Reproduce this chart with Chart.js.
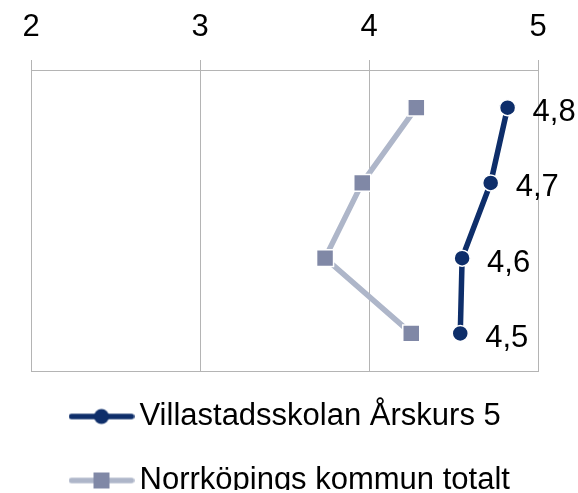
<!DOCTYPE html>
<html>
<head>
<meta charset="utf-8">
<script src="https://cdn.jsdelivr.net/npm/chart.js@4/dist/chart.umd.min.js"></script>
<style>
  html, body { margin: 0; padding: 0; background: #fff; }
  #wrap { width: 578px; height: 493px; }
</style>
</head>
<body>
<div id="wrap"><canvas id="chart" width="578" height="493"></canvas></div>
<script>
// data
const categories = ['Fråga 1', 'Fråga 2', 'Fråga 3', 'Fråga 4'];
const seriesNames = ['Villastadsskolan Årskurs 5', 'Norrköpings kommun totalt'];
const skolan = [4.82, 4.72, 4.551, 4.54];
const kommun = [4.28, 3.96, 3.74, 4.25];
const xTicks = [2, 3, 4, 5];

const navy = '#0e2e6a';
const lightLine = '#aeb6c9';
const lightMark = '#8088a6';
const gridColor = '#b4b4b4';
const fontFamily = '"Liberation Sans", Arial, sans-serif';

// legend marker: line with the point in the middle
function legendMarker(color, markColor, square) {
    let c = document.createElement('canvas');
    c.width = 66;
    c.height = 20;
    let g = c.getContext('2d');
    g.strokeStyle = color;
    g.lineWidth = 5.5;
    g.lineCap = 'round';
    g.beginPath();
    g.moveTo(3, 10);
    g.lineTo(63, 10);
    g.stroke();
    g.fillStyle = markColor;
    if (square) {
        g.fillRect(25, 2, 16, 16);
    } else {
        g.beginPath();
        g.arc(33, 10, 7.5, 0, Math.PI * 2);
        g.fill();
    }
    return c;
}
const markers = [legendMarker(navy, navy, false), legendMarker(lightLine, lightMark, true)];

// value labels to the right of the school's points
const valueLabels = {
    id: 'valueLabels',
    afterDatasetsDraw(chart) {
        const ctx = chart.ctx;
        const meta = chart.getDatasetMeta(0);
        ctx.save();
        ctx.font = '31px ' + fontFamily;
        ctx.fillStyle = '#000';
        ctx.textAlign = 'left';
        ctx.textBaseline = 'middle';
        meta.data.forEach(function (pt, i) {
            let txt = skolan[i].toFixed(1).replace('.', ',');
            ctx.fillText(txt, pt.x + 25, pt.y + 5);
        });
        ctx.restore();
    }
};

// nudge the legend so both rows start at the same x, like the original
const legendNudge = {
    id: 'legendNudge',
    afterLayout(chart) {
        const lg = chart.legend;
        lg.left += 15;
        lg.right += 15;
        lg.top -= 3;
        lg.bottom -= 3;
    }
};

new Chart(document.getElementById('chart'), {
    type: 'line',
    data: {
        labels: categories,
        datasets: [{
            label: seriesNames[0],
            data: skolan,
            borderColor: navy,
            borderWidth: 5.5,
            pointStyle: 'circle',
            pointRadius: 8,
            pointBackgroundColor: navy,
            pointBorderColor: '#fff',
            pointBorderWidth: 1.5
        }, {
            label: seriesNames[1],
            data: kommun,
            borderColor: lightLine,
            borderWidth: 5.5,
            pointStyle: 'rect',
            pointRadius: 12,
            pointBackgroundColor: lightMark,
            pointBorderColor: '#fff',
            pointBorderWidth: 1.5
        }]
    },
    options: {
        indexAxis: 'y',
        responsive: false,
        animation: false,
        layout: {
            padding: { left: 31, right: 40, top: 0, bottom: 0 }
        },
        scales: {
            x: {
                type: 'linear',
                position: 'top',
                min: 2,
                max: 5,
                afterBuildTicks: function (scale) {
                    scale.ticks = xTicks.map(function (v) { return { value: v }; });
                },
                afterFit: function (scale) { scale.height = 70; },
                ticks: {
                    color: '#000',
                    padding: 14,
                    font: { family: fontFamily, size: 31 }
                },
                grid: {
                    color: gridColor,
                    lineWidth: 1,
                    tickLength: 10
                },
                border: { color: gridColor, width: 1 }
            },
            x2: {
                type: 'linear',
                position: 'bottom',
                min: 2,
                max: 5,
                ticks: { display: false },
                grid: { display: false },
                border: { color: gridColor, width: 1 },
                afterFit: function (scale) { scale.height = 0; }
            },
            y: {
                type: 'category',
                offset: true,
                display: false
            }
        },
        plugins: {
            tooltip: { enabled: false },
            legend: {
                position: 'bottom',
                align: 'start',
                maxHeight: 122,
                labels: {
                    usePointStyle: true,
                    pointStyleWidth: 45,
                    padding: 33,
                    color: '#000',
                    font: { family: fontFamily, size: 31 },
                    generateLabels: function (chart) {
                        return chart.data.datasets.map(function (ds, i) {
                            return {
                                text: ds.label,
                                pointStyle: markers[i],
                                fillStyle: ds.borderColor,
                                strokeStyle: ds.borderColor,
                                lineWidth: 0,
                                hidden: false,
                                datasetIndex: i
                            };
                        });
                    }
                }
            }
        }
    },
    plugins: [valueLabels, legendNudge]
});
</script>
</body>
</html>
